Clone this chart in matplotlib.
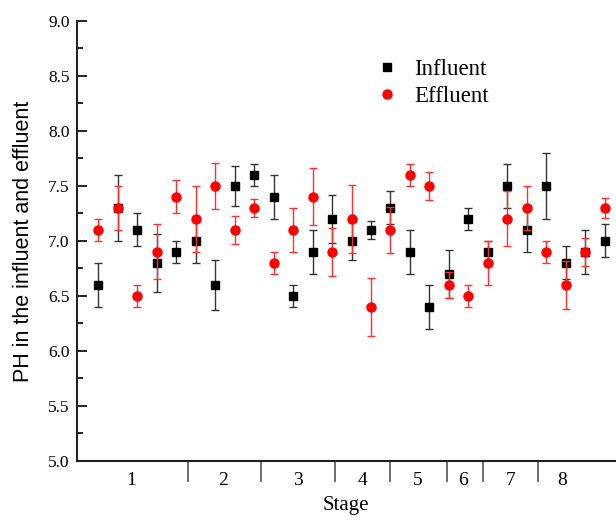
import matplotlib
matplotlib.use("Agg")
import matplotlib.pyplot as plt
import numpy as np
from matplotlib.ticker import MultipleLocator, FixedLocator, NullFormatter
from matplotlib.lines import Line2D

# ---- data ----
sample_index = list(range(27))
influent = [6.6, 7.3, 7.1, 6.8, 6.9, 7.0, 6.6, 7.5, 7.6,
            7.4, 6.5, 6.9, 7.2, 7.0, 7.1, 7.3, 6.9, 6.4,
            6.7, 7.2, 6.9, 7.5, 7.1, 7.5, 6.8, 6.9, 7.0]
influent_err = [0.2, 0.3, 0.15, 0.26, 0.1, 0.2, 0.23, 0.18, 0.1,
                0.2, 0.1, 0.2, 0.22, 0.17, 0.08, 0.15, 0.2, 0.2,
                0.22, 0.1, 0.1, 0.2, 0.2, 0.3, 0.15, 0.2, 0.15]
effluent = [7.1, 7.3, 6.5, 6.9, 7.4, 7.2, 7.5, 7.1, 7.3,
            6.8, 7.1, 7.4, 6.9, 7.2, 6.4, 7.1, 7.6, 7.5,
            6.6, 6.5, 6.8, 7.2, 7.3, 6.9, 6.6, 6.9, 7.3]
effluent_err = [0.1, 0.2, 0.1, 0.25, 0.15, 0.3, 0.21, 0.13, 0.08,
                0.1, 0.2, 0.26, 0.22, 0.31, 0.26, 0.21, 0.1, 0.13,
                0.12, 0.1, 0.2, 0.25, 0.2, 0.1, 0.22, 0.13, 0.09]
stage_labels = ["1", "2", "3", "4", "5", "6", "7", "8"]
stage_boundaries = [4.59, 8.35, 12.17, 14.97, 17.88, 19.76, 22.6]
stage_label_pos = [1.67, 6.4, 10.24, 13.57, 16.38, 18.75, 21.15, 23.8]

fig = plt.figure(figsize=(6.16, 5.2), dpi=100)
ax = fig.add_axes([0.1245, 0.1135, 0.8755, 0.8465])

ax.errorbar(sample_index, influent, yerr=influent_err, fmt='s', color='black',
            ecolor='#333333', elinewidth=1.0, capsize=3, capthick=1.0,
            markersize=6, zorder=3)
ax.errorbar(sample_index, effluent, yerr=effluent_err, fmt='o', color='red',
            ecolor='#ff3030', elinewidth=1.0, capsize=3, capthick=1.0,
            markersize=6.5, zorder=4)

ax.set_xlim(-1.11, 26.58)
ax.set_ylim(5.0, 9.0)

for s in ['top', 'right']:
    ax.spines[s].set_visible(False)
for s in ['left', 'bottom']:
    ax.spines[s].set_linewidth(1.5)
    ax.spines[s].set_color('#222222')

ax.yaxis.set_major_locator(MultipleLocator(0.5))
ax.yaxis.set_minor_locator(MultipleLocator(0.25))
ax.tick_params(axis='y', which='major', direction='in', length=7, width=1.2,
               labelsize=12.5, pad=5)
ax.tick_params(axis='y', which='minor', direction='in', length=4, width=1.2)

ax.xaxis.set_major_locator(FixedLocator(stage_boundaries))
ax.xaxis.set_major_formatter(NullFormatter())
ax.xaxis.set_minor_locator(FixedLocator(stage_label_pos))
ax.set_xticklabels(stage_labels, minor=True)
ax.tick_params(axis='x', which='major', direction='out', length=15, width=1.2, color='#555555')
ax.tick_params(axis='x', which='minor', length=0, labelsize=14, pad=8)

serif = ['Liberation Serif', 'DejaVu Serif']
for lab in ax.get_yticklabels() + ax.get_xticklabels(minor=True):
    lab.set_fontfamily(serif)

ax.set_xlabel('Stage', fontsize=15, family=serif, labelpad=5)
ax.set_ylabel('PH in the influent and effluent', fontsize=15.5,
              family=['Liberation Sans', 'DejaVu Sans'], labelpad=10)

handles = [Line2D([], [], marker='s', ls='', color='black', markersize=5.5),
           Line2D([], [], marker='o', ls='', color='red', markersize=6.5)]
ax.legend(handles, ['Influent', 'Effluent'], loc='upper left',
          bbox_to_anchor=(0.515, 0.96), frameon=False,
          prop={'family': serif, 'size': 16.5}, handletextpad=0.7,
          labelspacing=0.25, handlelength=1.0)

fig.savefig('out.png', dpi=100)
